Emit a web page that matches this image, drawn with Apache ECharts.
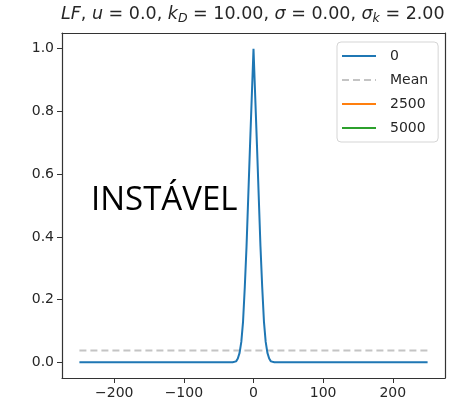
<!DOCTYPE html>
<html>
<head>
<meta charset="utf-8">
<script src="https://cdn.jsdelivr.net/npm/echarts@6/dist/echarts.min.js"></script>
<style>
html,body{margin:0;padding:0;background:#fff;}
#c{width:458px;height:410px;}
</style>
</head>
<body>
<div id="c"></div>
<script>
// Data
var xVals = [-250, -200, -150, -100, -50, -40, -30, -25, -22.5, -20, -17.5, -15, -12.5, -10, -5, 0, 5, 10, 12.5, 15, 17.5, 20, 22.5, 25, 30, 40, 50, 100, 150, 200, 250];
var series0 = [0, 0, 0, 0, 0, 0, 0, 0.003, 0.012, 0.03, 0.065, 0.13, 0.24, 0.37, 0.69, 1.0, 0.69, 0.37, 0.24, 0.13, 0.065, 0.03, 0.012, 0.003, 0, 0, 0, 0, 0, 0, 0];
var meanX = [-250, 250];
var meanY = [0.038, 0.038];
var series2500 = [];
var series5000 = [];
var legendNames = ['0', 'Mean', '2500', '5000'];
var xTicks = [-200, -100, 0, 100, 200];
var yTicks = [0.0, 0.2, 0.4, 0.6, 0.8, 1.0];

function pairs(xs, ys) { return xs.map(function (x, i) { return [x, ys[i]]; }); }

var chart = echarts.init(document.getElementById('c'), null, {renderer: 'canvas'});
var txt = '#262626';
var frame = {show: true, onZero: false, lineStyle: {color: '#333', width: 1.2}};
chart.setOption({
  animation: false,
  backgroundColor: '#fff',
  title: {
    left: 61, top: 3, padding: 0,
    text: '{i|LF}{n|, }{i|u}{n| = 0.0, }{i|k}{s|D}{n| = 10.00, }{i|σ}{n| = 0.00, }{i|σ}{s|k}{n| = 2.00}',
    textStyle: {
      fontFamily: 'DejaVu Sans', fontSize: 17, fontWeight: 'normal', color: txt,
      rich: {
        i: {fontFamily: 'DejaVu Sans', fontSize: 17.5, fontStyle: 'italic', color: txt, lineHeight: 22},
        n: {fontFamily: 'DejaVu Sans', fontSize: 17.5, color: txt, lineHeight: 22},
        s: {fontFamily: 'DejaVu Sans', fontSize: 12.5, fontStyle: 'italic', color: txt, lineHeight: 22, verticalAlign: 'bottom', padding: [7, 0, 0, 0]}
      }
    }
  },
  grid: {left: 62, right: 13, top: 33, bottom: 32, containLabel: false},
  legend: {
    left: 337, top: 42, orient: 'vertical',
    data: legendNames,
    itemWidth: 34, itemHeight: 14, itemGap: 10,
    padding: [7, 10, 7, 4],
    borderColor: '#d5d5d5', borderWidth: 1, borderRadius: 4,
    backgroundColor: 'rgba(255,255,255,0.8)',
    itemStyle: {opacity: 0},
    textStyle: {fontFamily: 'DejaVu Sans', fontSize: 14, color: txt, padding: [0, 0, 0, 9]}
  },
  xAxis: [{
    type: 'value', min: -275, max: 275,
    splitLine: {show: false},
    axisLine: frame,
    axisTick: {show: true, length: 5, lineStyle: {color: '#333'}, customValues: xTicks},
    axisLabel: {fontFamily: 'DejaVu Sans', fontSize: 14, color: txt, margin: 8, customValues: xTicks,
      formatter: function (v) { return v < 0 ? '\u2212' + Math.abs(v) : String(v); }}
  }, {
    type: 'value', min: -275, max: 275, position: 'top',
    splitLine: {show: false}, axisLine: frame, axisTick: {show: false}, axisLabel: {show: false}
  }],
  yAxis: [{
    type: 'value', min: -0.05, max: 1.05,
    splitLine: {show: false},
    axisLine: frame,
    axisTick: {show: true, length: 5, lineStyle: {color: '#333'}, customValues: yTicks},
    axisLabel: {fontFamily: 'DejaVu Sans', fontSize: 14, color: txt, margin: 8, customValues: yTicks,
      formatter: function (v) { return v.toFixed(1); }}
  }, {
    type: 'value', min: -0.05, max: 1.05, position: 'right',
    splitLine: {show: false}, axisLine: frame, axisTick: {show: false}, axisLabel: {show: false}
  }],
  graphic: [{
    type: 'text', left: 91, top: 184, z: 100,
    style: {text: 'INSTÁVEL', font: '33px "Open Sans"', fill: '#000'}
  }],
  series: [
    {name: legendNames[0], type: 'line', data: pairs(xVals, series0), showSymbol: false, symbol: 'none',
     lineStyle: {color: '#1f77b4', width: 2}, itemStyle: {color: '#1f77b4'}, z: 3},
    {name: legendNames[1], type: 'line', data: pairs(meanX, meanY), showSymbol: false, symbol: 'none',
     lineStyle: {color: '#c4c4c4', width: 2, type: [7, 4]}, itemStyle: {color: '#c4c4c4'}, z: 2},
    {name: legendNames[2], type: 'line', data: series2500, showSymbol: false, symbol: 'none',
     lineStyle: {color: '#ff7f0e', width: 2}, itemStyle: {color: '#ff7f0e'}},
    {name: legendNames[3], type: 'line', data: series5000, showSymbol: false, symbol: 'none',
     lineStyle: {color: '#2ca02c', width: 2}, itemStyle: {color: '#2ca02c'}}
  ]
});
</script>
</body>
</html>
